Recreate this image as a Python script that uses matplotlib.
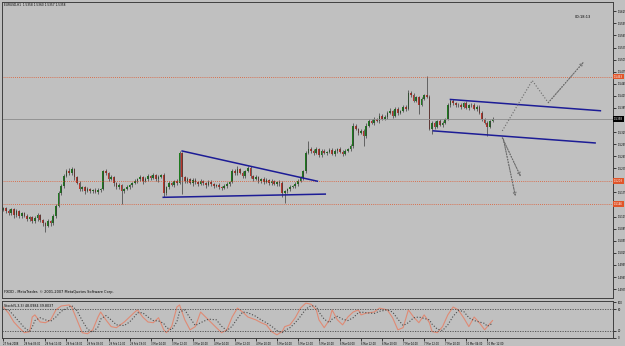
import matplotlib
matplotlib.use("Agg")
import matplotlib.pyplot as plt

# EURUSD H1 closes, one per hourly bar (27 Feb 2008 19:00 -> 10 Mar 2008)
closes = [
    1.5136, 1.5128, 1.5123, 1.5133, 1.5118, 1.5128, 1.5116, 1.5123, 1.5116, 1.5108,
    1.5113, 1.5103, 1.5111, 1.5118, 1.5106, 1.5098, 1.5093, 1.5103, 1.5098, 1.5116,
    1.5141, 1.5173, 1.5191, 1.5216, 1.5228, 1.5223, 1.5233, 1.5213, 1.5198, 1.5183,
    1.5188, 1.5178, 1.5183, 1.5178, 1.5181, 1.5176, 1.5181, 1.5183, 1.5228, 1.5223,
    1.5208, 1.5213, 1.5198, 1.5188, 1.5193, 1.5178, 1.5183, 1.5188, 1.5193, 1.5198,
    1.5203, 1.5208, 1.5213, 1.5203, 1.5208, 1.5216, 1.5211, 1.5218, 1.5208, 1.5213,
    1.5218, 1.5173, 1.5188, 1.5198, 1.5193, 1.5203, 1.5198, 1.5273, 1.5213, 1.5203,
    1.5208, 1.5198, 1.5206, 1.5201, 1.5196, 1.5203, 1.5198, 1.5193, 1.5201, 1.5196,
    1.5191, 1.5193, 1.5188, 1.5186, 1.5191, 1.5196, 1.5201, 1.5228, 1.5223, 1.5233,
    1.5223, 1.5216, 1.5228, 1.5236, 1.5216, 1.5208, 1.5213, 1.5203, 1.5208, 1.5201,
    1.5206, 1.5198, 1.5203, 1.5196, 1.5201, 1.5198, 1.5173, 1.5178, 1.5183, 1.5188,
    1.5191, 1.5196, 1.5203, 1.5211, 1.5228, 1.5273, 1.5283, 1.5278, 1.5273, 1.5283,
    1.5268, 1.5278, 1.5273, 1.5276, 1.5281, 1.5271, 1.5278, 1.5283, 1.5276, 1.5271,
    1.5278, 1.5283, 1.5291, 1.5341, 1.5333, 1.5323, 1.5328, 1.5316, 1.5341, 1.5353,
    1.5348, 1.5358, 1.5353, 1.5366, 1.5358, 1.5363, 1.5373, 1.5378, 1.5366, 1.5383,
    1.5373, 1.5378, 1.5388, 1.5383, 1.5423, 1.5416, 1.5403, 1.5411, 1.5393, 1.5408,
    1.5416, 1.5413, 1.5333, 1.5348, 1.5338, 1.5353, 1.5343, 1.5348, 1.5358, 1.5391,
    1.5403, 1.5396, 1.5391, 1.5393, 1.5388, 1.5396, 1.5386, 1.5391, 1.5393, 1.5383,
    1.5388, 1.5373, 1.5358, 1.5348, 1.5338, 1.5353, 1.5358,
]
first_open = 1.5131

# wick lengths beyond the body, in pips
wick_up = [
    4, 3, 5, 4, 3, 5, 4, 3, 4, 5,
    3, 4, 5, 6, 3, 4, 3, 5, 4, 6,
    5, 6, 4, 6, 5, 7, 5, 4, 3, 5,
    4, 3, 5, 4, 3, 4, 5, 3, 4, 6,
    3, 5, 4, 3, 6, 4, 3, 5, 4, 3,
    5, 4, 6, 3, 5, 4, 3, 6, 4, 5,
    4, 6, 3, 5, 4, 3, 5, 5, 2, 4,
    5, 3, 4, 6, 3, 5, 4, 3, 5, 4,
    3, 4, 5, 3, 4, 5, 3, 6, 5, 7,
    4, 5, 3, 5, 4, 3, 5, 4, 3, 5,
    4, 3, 5, 4, 3, 4, 6, 3, 4, 5,
    3, 4, 5, 6, 4, 6, 20, 5, 4, 6,
    3, 5, 4, 3, 5, 4, 6, 3, 4, 5,
    4, 3, 5, 7, 4, 3, 5, 4, 6, 5,
    4, 5, 3, 6, 4, 5, 4, 6, 3, 5,
    4, 3, 5, 4, 6, 4, 5, 3, 4, 5,
    4, 48, 3, 4, 5, 3, 4, 5, 3, 6,
    5, 4, 3, 5, 4, 3, 5, 4, 3, 4,
    5, 3, 4, 3, 4, 3, 4,
]
wick_dn = [
    3, 4, 5, 3, 6, 4, 5, 4, 3, 5,
    4, 5, 3, 6, 4, 5, 15, 4, 5, 3,
    4, 3, 5, 4, 3, 5, 4, 6, 3, 5,
    4, 6, 3, 5, 4, 3, 5, 4, 3, 5,
    4, 3, 6, 4, 5, 32, 4, 3, 5, 4,
    3, 5, 4, 6, 3, 4, 5, 3, 4, 6,
    3, 10, 5, 4, 3, 5, 4, 3, 42, 5,
    4, 3, 6, 4, 5, 3, 4, 6, 3, 4,
    5, 3, 4, 6, 3, 4, 5, 3, 4, 5,
    3, 4, 6, 3, 5, 4, 3, 5, 4, 6,
    3, 4, 5, 3, 4, 6, 8, 25, 4, 5,
    3, 4, 5, 3, 4, 5, 3, 4, 6, 3,
    5, 4, 3, 6, 4, 3, 5, 4, 3, 5,
    4, 3, 5, 5, 4, 6, 3, 25, 5, 4,
    3, 5, 4, 6, 3, 4, 5, 3, 6, 4,
    5, 3, 4, 6, 4, 5, 4, 3, 22, 4,
    3, 4, 3, 12, 5, 4, 3, 5, 4, 3,
    4, 5, 3, 4, 6, 3, 4, 5, 3, 4,
    5, 4, 6, 3, 22, 4, 3,
]

# Stochastic(5,3,3): bar index, %K, %D
stoch_idx = [0, 2, 4, 6, 8, 10, 11, 12, 14, 16, 18, 20, 22, 25, 26, 28, 30, 32, 34, 36,
             37, 39, 41, 43, 46, 48, 50, 51, 53, 55, 57, 59, 61, 62, 64, 66, 67, 69, 71, 73,
             75, 78, 81, 83, 85, 87, 89, 91, 93, 96, 98, 100, 102, 104, 106, 107, 109, 111, 113, 115,
             117, 119, 120, 122, 124, 125, 127, 129, 131, 133, 135, 136, 138, 141, 143, 146, 148, 150, 152, 154,
             156, 158, 160, 162, 163, 165, 167, 169, 171, 173, 175, 177, 179, 181, 183, 184, 186]
stoch_main = [86, 69, 44, 28, 14, 17, 58, 64, 44, 42, 50, 78, 89, 92, 86, 50, 14, 11, 22, 58,
              72, 50, 31, 28, 44, 58, 72, 78, 58, 44, 42, 56, 22, 14, 31, 86, 92, 50, 22, 31,
              72, 50, 28, 14, 22, 58, 83, 72, 58, 50, 42, 36, 17, 8, 17, 31, 36, 56, 83, 97,
              94, 78, 50, 28, 50, 78, 50, 36, 58, 72, 78, 64, 69, 72, 83, 78, 56, 22, 28, 78,
              58, 42, 64, 42, 17, 14, 31, 64, 86, 78, 56, 31, 58, 42, 22, 31, 48]
stoch_signal = [80, 78, 62, 45, 28, 18, 30, 48, 56, 50, 46, 58, 74, 86, 90, 76, 48, 24, 15, 30,
                52, 62, 50, 36, 34, 44, 60, 70, 70, 58, 48, 47, 40, 28, 22, 45, 72, 78, 55, 34,
                42, 52, 50, 32, 20, 32, 54, 72, 70, 60, 50, 42, 32, 20, 14, 20, 28, 42, 60, 80,
                90, 88, 72, 52, 42, 52, 60, 52, 48, 56, 70, 72, 70, 68, 74, 78, 72, 52, 34, 42,
                56, 58, 54, 50, 38, 24, 20, 36, 60, 76, 74, 56, 48, 44, 40, 32, 40]

time_labels = ["27 Feb 2008", "28 Feb 03:00", "28 Feb 11:00", "28 Feb 19:00", "29 Feb 03:00",
               "29 Feb 11:00", "29 Feb 19:00", "3 Mar 04:00", "3 Mar 12:00", "3 Mar 20:00",
               "4 Mar 04:00", "4 Mar 12:00", "4 Mar 20:00", "5 Mar 04:00", "5 Mar 12:00",
               "5 Mar 20:00", "6 Mar 04:00", "6 Mar 12:00", "6 Mar 20:00", "7 Mar 04:00",
               "7 Mar 12:00", "7 Mar 20:00", "10 Mar 04:00", "10 Mar 12:00"]
price_ticks = [1.5625, 1.5595, 1.5565, 1.5535, 1.5505, 1.5475, 1.5445, 1.5415, 1.5385, 1.5355,
               1.5325, 1.5295, 1.5265, 1.5235, 1.5205, 1.5175, 1.5145, 1.5115, 1.5085, 1.5055,
               1.5025, 1.4995, 1.4965, 1.4935]
# tick labels that sit under the price boxes on the scale
covered_ticks = [1.5355, 1.5205, 1.5145]

current_price = 1.5358
levels = [1.5463, 1.5203, 1.5146]

# hand drawn objects: (bar index, price) pairs
triangle_top = [(68, 1.5278), (119.4, 1.5203)]
triangle_bottom = [(60.8, 1.5163), (122.4, 1.5171)]
channel_top = [(170, 1.5406), (227, 1.5378)]
channel_bottom = [(163.5, 1.5328), (225, 1.5298)]
scenario_up = [(189.7, 1.5328), (201.1, 1.5453), (207.2, 1.5398), (220.5, 1.5498)]
scenario_dn1 = [(189.7, 1.5311), (196.6, 1.5216)]
scenario_dn2 = [(190.1, 1.5308), (194.7, 1.5166)]

BG = "#c0c0c0"
UP = "#1e7a1e"
DN = "#b8372c"
WICK = "#3c3c3c"
ORANGE = "#e0552a"
FS = 1.9

fig = plt.figure(figsize=(6.25, 3.46), dpi=100, facecolor=BG)
ax = fig.add_axes([2 / 625, 48 / 346, 611 / 625, 296 / 346], facecolor=BG)
ax2 = fig.add_axes([2 / 625, 8 / 346, 611 / 625, 37 / 346], facecolor=BG, sharex=ax)

opens = [first_open] + closes[:-1]
for i, (o, c) in enumerate(zip(opens, closes)):
    top, bot = max(o, c), min(o, c)
    ax.vlines(i, bot - wick_dn[i] * 0.0001, top + wick_up[i] * 0.0001, color=WICK, lw=0.5)
    ax.bar(i, max(top - bot, 0.00006), bottom=bot, width=0.62,
           color=UP if c >= o else DN, linewidth=0)

for lv in levels:
    ax.axhline(lv, color=ORANGE, ls=(0, (1, 1.5)), lw=0.6)
    ax.text(1.001, lv, f"{lv:.4f}", transform=ax.get_yaxis_transform(), fontsize=FS,
            color="white", va="center", ha="left", clip_on=False,
            bbox=dict(boxstyle="square,pad=0.35", fc=ORANGE, ec="none"))
ax.axhline(current_price, color="#8c8c8c", lw=0.6)
ax.text(1.001, current_price, f"{current_price:.4f}", transform=ax.get_yaxis_transform(),
        fontsize=FS, color="white", va="center", ha="left", clip_on=False,
        bbox=dict(boxstyle="square,pad=0.35", fc="black", ec="none"))

for ln in (triangle_top, triangle_bottom, channel_top, channel_bottom):
    xs, ys = zip(*ln)
    ax.plot(xs, ys, color="#1c1c96", lw=1.1)

for path in (scenario_up, scenario_dn1, scenario_dn2):
    xs, ys = zip(*path)
    ax.plot(xs, ys, color="#6a6a6a", ls=":", lw=0.8)
    ax.annotate("", xy=path[-1], xytext=path[-2],
                arrowprops=dict(arrowstyle="->", color="#6a6a6a", lw=0.7, ls=":",
                                shrinkA=0, shrinkB=0, mutation_scale=5))

ax.set_xlim(-0.5, 231.8)
ax.set_ylim(1.4913, 1.5648)
ax.yaxis.tick_right()
ax.set_yticks(price_ticks)
ax.set_yticklabels(["" if t in covered_ticks else f"{t:.4f}" for t in price_ticks])
ax.tick_params(axis="y", labelsize=FS, length=2, width=0.5, pad=1.2, colors="black")
ax.tick_params(axis="x", bottom=False, labelbottom=False)

ax.text(0.003, 0.997, "EURUSD,H1  1.5358 1.5360 1.5357 1.5358", transform=ax.transAxes,
        fontsize=2.1, va="top", ha="left")
ax.text(0.951, 0.949, "00:18:13", transform=ax.transAxes, fontsize=2.6, va="center", ha="center")
ax.text(0.003, 0.012, "FXDD - MetaTrader, \u00a9 2001-2007 MetaQuotes Software Corp.",
        transform=ax.transAxes, fontsize=2.5, va="bottom", ha="left")

# stochastic panel
ax2.plot(stoch_idx, stoch_main, color="#e08a74", lw=0.8)
ax2.plot(stoch_idx, stoch_signal, color="#4a4a4a", ls=":", lw=0.8)
for lv in (80, 20):
    ax2.axhline(lv, color="#4a4a4a", ls=(0, (1.5, 1.5)), lw=0.6)
ax2.set_ylim(-1, 103)
ax2.yaxis.tick_right()
ax2.set_yticks([0, 20, 80, 100])
ax2.set_yticklabels(["0", "20", "80", "100"])
ax2.tick_params(axis="y", labelsize=FS, length=2, width=0.5, pad=1.2)
ax2.text(0.003, 0.93, "Stoch(5,3,3) 48.0984 39.8037", transform=ax2.transAxes,
         fontsize=2.3, va="top", ha="left")

ax2.set_xticks(list(range(0, 8 * len(time_labels), 8)))
ax2.set_xticklabels(time_labels)
ax2.tick_params(axis="x", labelsize=1.8, length=2, width=0.5, pad=0.8)
plt.setp(ax2.get_xticklabels(), ha="left")

for a in (ax, ax2):
    for s in a.spines.values():
        s.set_color("#404040")
        s.set_linewidth(0.7)

fig.savefig("out.png", dpi=100, facecolor=BG)
